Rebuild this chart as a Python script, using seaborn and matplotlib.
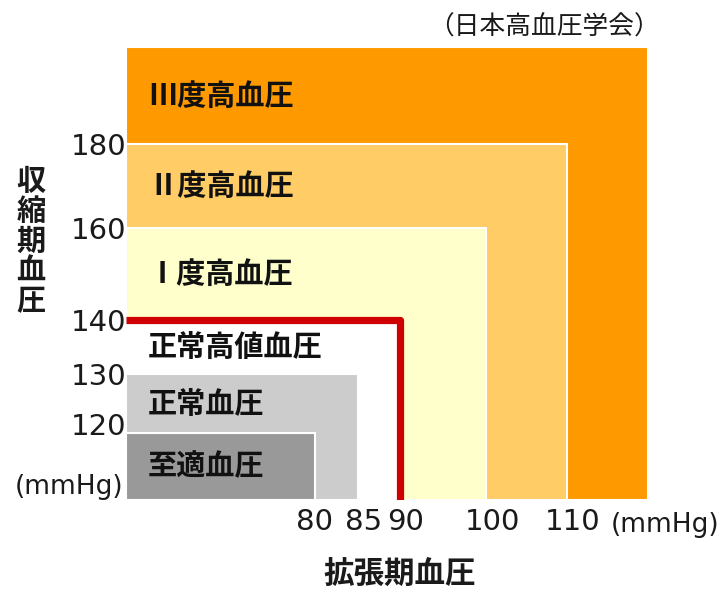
import numpy as np
import pandas as pd
import matplotlib
matplotlib.use("Agg")
import matplotlib.pyplot as plt
import matplotlib.transforms as mtransforms
import seaborn as sns

# ---- data ----
categories = ["Ⅲ度高血圧", "Ⅱ度高血圧", "Ⅰ度高血圧", "正常高値血圧", "正常血圧", "至適血圧"]
diastolic_upper = [120, 110, 100, 90, 85, 80]      # mmHg (Ⅲ extends to chart edge)
systolic_upper = [200, 180, 160, 140, 130, 120]    # mmHg (Ⅲ extends to chart edge)
x_ticks = [80, 85, 90, 100, 110]
y_ticks = [120, 130, 140, 160, 180]
x_min, y_min = 60, 100
hypertension_line_x = [60, 90, 90]
hypertension_line_y = [140, 140, 100]
title_text = "（日本高血圧学会）"
x_label = "拡張期血圧"
y_label = "収縮期血圧"
unit = "(mmHg)"

colors = ["#FF9900", "#FFCC66", "#FFFFCC", "#FFFFFF", "#CCCCCC", "#999999"]

# piecewise (non-linear) axis layout of the original graphic
x_break = [60, 80, 85, 90, 100, 110, 120]
x_pos = [0, 189, 232, 274, 360, 441, 522]
y_break = [100, 120, 130, 140, 160, 180, 200]
y_pos = [0, 67, 126, 180, 272, 356, 453]

sns.set_theme(style="white")
plt.rcParams["font.family"] = ["Noto Sans CJK JP", "DejaVu Sans"]

df = pd.DataFrame({"category": categories, "dia": diastolic_upper, "sys": systolic_upper,
                   "color": colors})

fig = plt.figure(figsize=(7.23, 5.93), dpi=100)
ax = fig.add_axes([126 / 723, 93 / 593, 522 / 723, 453 / 593])

ax.set_xscale("function", functions=(lambda v: np.interp(v, x_break, x_pos),
                                     lambda p: np.interp(p, x_pos, x_break)))
ax.set_yscale("function", functions=(lambda v: np.interp(v, y_break, y_pos),
                                     lambda p: np.interp(p, y_pos, y_break)))

for _, r in df.iterrows():
    ax.bar(x_min, r["sys"] - y_min, width=r["dia"] - x_min, bottom=y_min, align="edge",
           color=r["color"], edgecolor="white", linewidth=1.5, zorder=1)

sns.lineplot(x=hypertension_line_x, y=hypertension_line_y, sort=False, estimator=None,
             color="#D10000", linewidth=5.2, solid_joinstyle="round", solid_capstyle="butt",
             ax=ax, zorder=3)

# band labels
lowers = systolic_upper[1:] + [y_min]
blend = mtransforms.blended_transform_factory(ax.transAxes, ax.transData)
for cat, up, lo in zip(categories, systolic_upper, lowers):
    ax.text(0.042, (up + lo) / 2, cat, transform=blend, ha="left", va="center",
            fontsize=21, fontweight="bold", color="#111111", zorder=4)

ax.set_xlim(x_min, diastolic_upper[0])
ax.set_ylim(y_min, systolic_upper[0])
ax.set_xticks(x_ticks)
ax.set_xticklabels([str(t) for t in x_ticks], fontfamily="DejaVu Sans", fontsize=21,
                   color="#1a1a1a")
ax.set_yticks(y_ticks)
ax.set_yticklabels([str(t) for t in y_ticks], fontfamily="DejaVu Sans", fontsize=21,
                   color="#1a1a1a")
ax.tick_params(axis="both", length=0)
ax.tick_params(axis="x", pad=6)
ax.tick_params(axis="y", pad=0)
for s in ax.spines.values():
    s.set_visible(False)
ax.grid(False)

# small layout nudges of tick labels
for lab, t in zip(ax.get_xticklabels(), x_ticks):
    if t != 80:
        lab.set_transform(lab.get_transform() +
                          mtransforms.ScaledTranslation(6 / 100, 0, fig.dpi_scale_trans))
for lab, t in zip(ax.get_yticklabels(), y_ticks):
    if t == 120:
        lab.set_transform(lab.get_transform() +
                          mtransforms.ScaledTranslation(0, 9 / 100, fig.dpi_scale_trans))

fig.text(660 / 723, (593 - 28) / 593, title_text, ha="right", va="center",
         fontsize=18.5, color="#1a1a1a")
fig.text(719 / 723, (593 - 525) / 593, unit, ha="right", va="center",
         fontfamily="DejaVu Sans", fontsize=19, color="#1a1a1a")
fig.text(123 / 723, (593 - 487) / 593, unit, ha="right", va="center",
         fontfamily="DejaVu Sans", fontsize=19, color="#1a1a1a")
fig.text(400 / 723, (593 - 575) / 593, x_label, ha="center", va="center",
         fontsize=22, fontweight="bold", color="#1a1a1a")
fig.text(31 / 723, (593 - 241) / 593, "\n".join(y_label), ha="center", va="center",
         fontsize=21, fontweight="bold", color="#1a1a1a", linespacing=1.0)

fig.savefig("out.png", dpi=100)
